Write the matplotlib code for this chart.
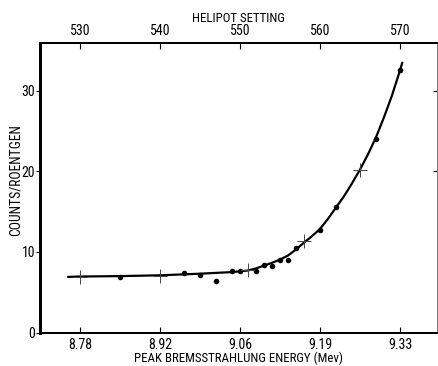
import matplotlib
matplotlib.use("Agg")
import matplotlib.pyplot as plt

plt.rcParams['font.family'] = ['Roboto Condensed', 'Liberation Sans Narrow', 'DejaVu Sans Condensed',
                               'Open Sans Condensed', 'DejaVu Sans']

# Helipot settings (x) and counts/roentgen (y)
dot_h = [535, 543, 545, 547, 549, 550, 552, 553, 554, 555, 556, 557, 560, 562, 567, 570]
dot_v = [6.93, 7.43, 7.14, 6.34, 7.68, 7.68, 7.60, 8.35, 8.30, 9.00, 8.97, 10.5, 12.77, 15.53, 24.04, 32.6]

plus_h = [530, 540, 551, 558, 565]
plus_v = [6.95, 7.02, 7.70, 11.35, 20.2]

curve_h = [528.5, 530, 535, 540, 545, 549, 551, 552, 553, 554, 555, 556, 557, 558,
           559, 560, 561, 562, 563, 564, 565, 566, 567, 568, 569, 570, 570.3]
curve_v = [6.9, 6.95, 7.0, 7.1, 7.3, 7.5, 7.7, 7.95, 8.3, 8.65, 9.05, 9.55, 10.3, 11.15,
           11.95, 12.85, 14.1, 15.5, 16.9, 18.5, 20.2, 22.1, 24.2, 26.7, 29.4, 32.5, 33.5]

top_ticks = [530, 540, 550, 560, 570]
top_labels = ['530', '540', '550', '560', '570']
bottom_labels = ['8.78', '8.92', '9.06', '9.19', '9.33']
y_ticks = [0, 10, 20, 30]
y_labels = ['0', '10', '20', '30']

TFS = 10
LFS = 9.3

fig = plt.figure(figsize=(4.38, 3.66), dpi=100)
ax = fig.add_axes([40/438, (366-332.5)/366, 396.7/438, (332.5-42.5)/366])

ax.plot(curve_h, curve_v, color='black', lw=1.6, zorder=2, solid_capstyle='round')
ax.scatter(dot_h, dot_v, s=16, color='black', zorder=3, linewidths=0)
ax.scatter(plus_h, plus_v, s=110, marker='+', color='#444444', linewidths=0.7, zorder=4)

ax.set_xlim(525, 574.6)
ax.set_ylim(0, 36.0)

ax.set_xticks(top_ticks)
ax.set_xticklabels(bottom_labels)
ax.set_yticks(y_ticks)
ax.set_yticklabels(y_labels)
ax.tick_params(axis='x', direction='in', length=4, width=0.8, labelsize=TFS, pad=4)
ax.tick_params(axis='y', direction='out', length=3, width=0.8, labelsize=TFS, pad=0.5)
ax.set_xlabel('PEAK BREMSSTRAHLUNG ENERGY (Mev)', fontsize=LFS, labelpad=0)
ax.set_ylabel('COUNTS/ROENTGEN', fontsize=9.8)
ax.yaxis.set_label_coords(-0.045, 0.526)

ax2 = ax.twiny()
ax2.set_xlim(ax.get_xlim())
ax2.set_xticks(top_ticks)
ax2.set_xticklabels(top_labels)
ax2.tick_params(axis='x', direction='in', length=4, width=0.8, labelsize=TFS, pad=3)
ax2.set_xlabel('HELIPOT SETTING', fontsize=LFS, labelpad=2)

# right-side inward ticks
axr = ax.twinx()
axr.set_ylim(ax.get_ylim())
axr.set_yticks([20, 30])
axr.set_yticklabels([])
axr.tick_params(axis='y', direction='in', length=3, width=0.8)

for a in (ax, ax2, axr):
    a.spines['left'].set_linewidth(1.8)
    a.spines['bottom'].set_linewidth(1.4)
    a.spines['top'].set_linewidth(1.4)
    a.spines['right'].set_linewidth(0.6)
    a.spines['right'].set_color('#777777')

fig.savefig('out.png', dpi=100)
